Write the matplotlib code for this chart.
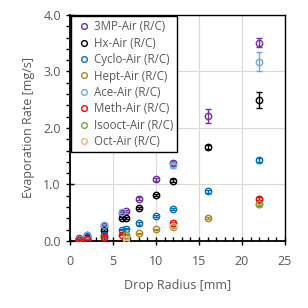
import matplotlib
matplotlib.use("Agg")
import matplotlib.pyplot as plt
from matplotlib.ticker import MultipleLocator, FormatStrFormatter

plt.rcParams['font.family'] = ['Open Sans', 'DejaVu Sans']

GRAY = "#595959"

# drop radius [mm] / evaporation rate [mg/s] / error
labels = ["3MP-Air (R/C)", "Hx-Air (R/C)", "Cyclo-Air (R/C)", "Hept-Air (R/C)",
          "Ace-Air (R/C)", "Meth-Air (R/C)", "Isooct-Air (R/C)", "Oct-Air (R/C)"]
colors = ["#7030A0", "#000000", "#0070C0", "#B08A1E",
          "#6FA8DC", "#FF0000", "#70AD47", "#F4B183"]

x_3mp = [1, 2, 4, 6, 6.5, 8, 10, 12, 16, 22]
y_3mp = [0.05, 0.11, 0.27, 0.50, 0.53, 0.75, 1.09, 1.38, 2.21, 3.51]
e_3mp = [0.01, 0.01, 0.02, 0.02, 0.02, 0.03, 0.03, 0.04, 0.12, 0.08]

x_hx = [1, 2, 4, 6, 6.5, 8, 10, 12, 16, 22]
y_hx = [0.03, 0.06, 0.19, 0.41, 0.41, 0.59, 0.81, 1.07, 1.66, 2.50]
e_hx = [0.01, 0.01, 0.02, 0.02, 0.02, 0.02, 0.02, 0.03, 0.04, 0.14]

x_cyc = [1, 2, 4, 6, 6.5, 8, 10, 12, 16, 22]
y_cyc = [0.03, 0.08, 0.11, 0.20, 0.22, 0.31, 0.44, 0.57, 0.88, 1.43]
e_cyc = [0.01, 0.01, 0.01, 0.01, 0.01, 0.02, 0.02, 0.02, 0.03, 0.04]

x_hept = [1, 2, 4, 6.5, 8, 10, 12, 16, 22]
y_hept = [0.02, 0.04, 0.07, 0.11, 0.14, 0.21, 0.25, 0.41, 0.65]
e_hept = [0.01, 0.01, 0.01, 0.01, 0.01, 0.01, 0.02, 0.02, 0.03]

x_ace = [1, 2, 4, 6, 12, 22]
y_ace = [0.04, 0.10, 0.29, 0.51, 1.34, 3.17]
e_ace = [0.01, 0.01, 0.02, 0.02, 0.04, 0.17]

x_meth = [1, 2, 4, 6, 12, 22]
y_meth = [0.02, 0.03, 0.07, 0.11, 0.31, 0.75]
e_meth = [0.01, 0.01, 0.01, 0.01, 0.02, 0.03]

x_iso = [6.5, 12, 22]
y_iso = [0.10, 0.26, 0.66]
e_iso = [0.01, 0.02, 0.03]

x_oct = [6.5, 12]
y_oct = [0.03, 0.27]
e_oct = [0.01, 0.02]

series = [(x_3mp, y_3mp, e_3mp), (x_hx, y_hx, e_hx), (x_cyc, y_cyc, e_cyc),
          (x_hept, y_hept, e_hept), (x_ace, y_ace, e_ace), (x_meth, y_meth, e_meth),
          (x_iso, y_iso, e_iso), (x_oct, y_oct, e_oct)]

fig = plt.figure(figsize=(3.08, 3.08), dpi=100)
ax = fig.add_axes([0.227, 0.2175, 0.698, 0.734])

for (x, y, e), lab, c in zip(series, labels, colors):
    ax.errorbar(x, y, yerr=e, fmt="o", mfc="none", mec=c, ecolor=c, ms=4.6,
                mew=1.0, elinewidth=1.0, capsize=2.5, capthick=1.0, label=lab, zorder=3)

ax.set_xlim(0, 25)
ax.set_ylim(0, 4.0)
ax.xaxis.set_major_locator(MultipleLocator(5))
ax.xaxis.set_minor_locator(MultipleLocator(1))
ax.yaxis.set_major_locator(MultipleLocator(1))
ax.yaxis.set_minor_locator(MultipleLocator(0.2))
ax.yaxis.set_major_formatter(FormatStrFormatter("%.1f"))
ax.grid(True, which="major", color="#D9D9D9", lw=0.8, zorder=0)

ax.tick_params(axis="x", which="major", direction="inout", length=6, width=1, colors="black",
               labelcolor=GRAY, labelsize=9, pad=7)
ax.tick_params(axis="x", which="minor", direction="in", length=3, width=1)
ax.tick_params(axis="y", which="major", direction="inout", length=6, width=1, colors="black",
               labelcolor=GRAY, labelsize=9, pad=3.5)
ax.tick_params(axis="y", which="minor", direction="out", length=3, width=1)
for s in ["left", "bottom"]:
    ax.spines[s].set_linewidth(1.3)
for s in ["top", "right"]:
    ax.spines[s].set_linewidth(1.0)

ax.set_xlabel("Drop Radius [mm]", color=GRAY, fontsize=9, labelpad=8)
ax.set_ylabel("Evaporation Rate [mg/s]", color=GRAY, fontsize=9, labelpad=6)

handles, labs = ax.get_legend_handles_labels()
handles = [h[0] for h in handles]
leg = ax.legend(handles, labs, loc="upper left", fontsize=8.3, frameon=True, fancybox=False,
                edgecolor="black", framealpha=1, handletextpad=0.1, handlelength=1.5,
                labelspacing=0.3, borderaxespad=0.1, borderpad=0.35, markerscale=0.9)
leg.get_frame().set_linewidth(1.0)
for t in leg.get_texts():
    t.set_color(GRAY)

fig.savefig("out.png", dpi=100)
